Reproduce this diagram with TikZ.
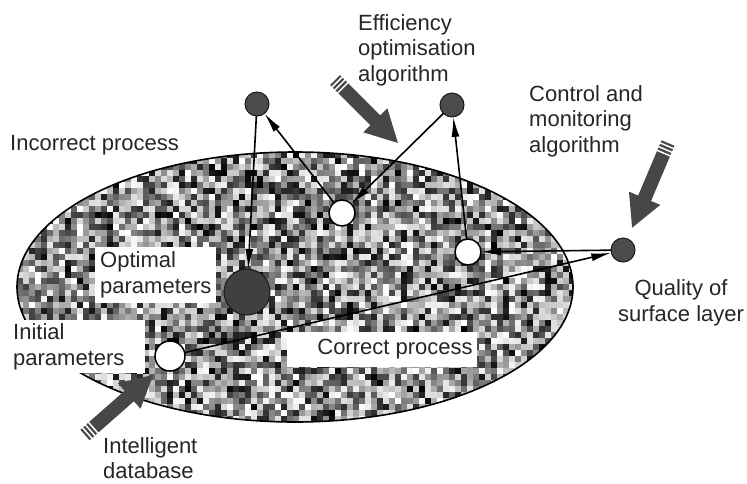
\documentclass[tikz,border=0pt]{standalone}
\usepackage{fontspec}
\setmainfont{Liberation Sans}
\usetikzlibrary{arrows.meta}
\tikzset{
  lbl/.style={font=\fontsize{22}{25.5}\selectfont, text=black!85, inner sep=0pt, align=left},
  lblc/.style={font=\fontsize{22}{25.5}\selectfont, text=black!85, inner sep=0pt, align=center},
  darkdot/.style={circle, fill=black!70, draw=black!90, line width=1pt, minimum size=24pt, inner sep=0pt, outer sep=0pt},
  bigdot/.style={circle, fill=black!75, draw=black!90, line width=1pt, minimum size=46pt, inner sep=0pt, outer sep=0pt},
  whitedot/.style={circle, fill=white, draw=black, line width=1.5pt, minimum size=26pt, inner sep=0pt, outer sep=0pt},
  conn/.style={draw=black, line width=1.6pt, -{Latex[length=20pt,width=8pt]}},
  whitebox/.style={fill=white},
  blockfill/.style={fill=black!72},
}
\newcommand{\blkarrow}[3]{%
  \begin{scope}[shift={#1}, rotate=#2]
    \fill[blockfill] (0,-7) -- ({#3-32},-7) -- ({#3-32},-17) -- (#3,0) -- ({#3-32},17) -- ({#3-32},7) -- (0,7) -- cycle;
    \foreach \s in {3,7,11} \draw[white, line width=1.5pt] (\s,-7.5) -- (\s,7.5);
  \end{scope}}
\begin{document}
\begin{tikzpicture}[x=1pt, y=-1pt]
\useasboundingbox (0,0) rectangle (747,483);
\fill[white] (0,0) rectangle (747,483);
% speckled ellipse
\begin{scope}
  \clip (295,287) ellipse [x radius=278, y radius=135];
  \fill[black!45] (17,152) rectangle (573,422);
  \pgfmathsetseed{11}
  \foreach \i in {0,...,92} {
    \foreach \j in {0,...,45} {
      \pgfmathsetmacro\g{int(100*rnd^1.2)}
      \fill[black!\g] ({17+6*\i},{152+6*\j}) rectangle +(6.3,6.3);
    }
  }
\end{scope}
\draw[line width=1.6pt] (295,287) ellipse [x radius=278, y radius=135];
% white label boxes
\fill[whitebox] (95,247) rectangle (216,303);
\fill[whitebox] (0,320) rectangle (145,373);
\fill[whitebox] (287,332) rectangle (477,367);
% dots
\node[darkdot] (d1) at (257,104) {};
\node[darkdot] (d2) at (452,105) {};
\node[darkdot] (q) at (623,250) {};
\node[bigdot] (big) at (247,292) {};
\node[whitedot] (wc) at (342,213) {};
\node[whitedot] (wr) at (468,252) {};
\node[whitedot, minimum size=30pt] (wi) at (170,356) {};
% connectors
\draw[conn] (d1) -- (big);
\draw[conn] (wc) -- (d1);
\draw[conn] (d2) -- (wc);
\draw[conn] (wr) -- (d2);
\draw[conn] (q) -- (wr);
\draw[conn] (wi) -- (q);
% labels
\node[lbl, anchor=west] (t1) at (10,145) {Incorrect process};
\node[lbl, anchor=west] (t2) at (358,50) {Efficiency\\optimisation\\algorithm};
\node[lbl, anchor=west] (t3) at (529,121) {Control and\\monitoring\\algorithm};
\node[lbl, anchor=west] (t4) at (100,275) {Optimal\\parameters};
\node[lbl, anchor=west] (t5) at (13,347) {Initial\\parameters};
\node[lbl] (t6) at (395,349) {Correct process};
\node[lblc] (t7) at (681,303) {Quality of\\surface layer};
\node[lbl, anchor=west] (t8) at (103,458) {Intelligent\\database};
% block arrows
\coordinate (ea) at (335,80);
\coordinate (ca) at (668,143);
\coordinate (ia) at (85,435);
\blkarrow{(ea)}{-45}{89}
\blkarrow{(ca)}{-112.95}{92}
\blkarrow{(ia)}{41.4}{91}
\end{tikzpicture}
\end{document}
